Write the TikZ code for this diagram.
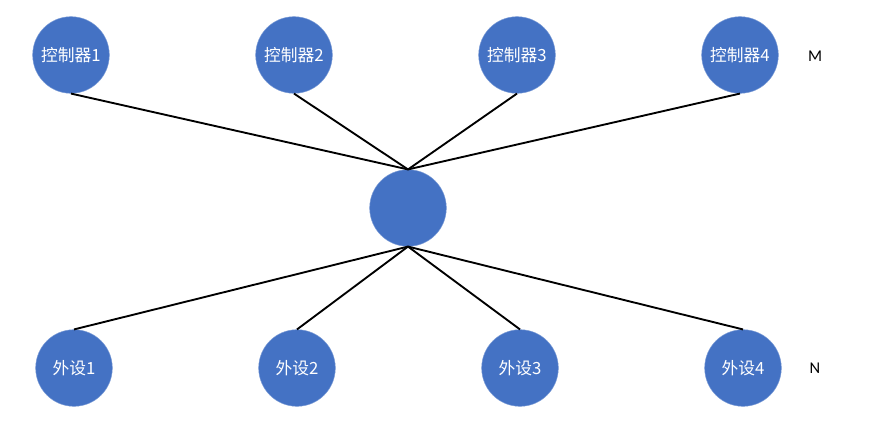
\documentclass[tikz,border=0pt]{standalone}
\usepackage{fontspec}
\usepackage{xcolor}
\newfontfamily\cjk{Noto Sans CJK SC}
\setmainfont{Carlito}
\definecolor{mainblue}{RGB}{68, 114, 196}

\tikzset{
  dot/.style={circle, fill=mainblue, draw=mainblue!70!white, line width=0.4pt,
    minimum size=2.3cm, inner sep=0pt, text=white,
    font=\cjk\fontsize{14.3}{17}\selectfont},
  link/.style={line width=1.6pt, black},
  tag/.style={font=\fontsize{14}{17}\selectfont}
}

\begin{document}
\begin{tikzpicture}[x=0.03cm, y=-0.03cm]
    \useasboundingbox (0,0) rectangle (875,423);
    % hub
    \node[dot] (hub) at (408,208) {};
    % controllers
    \node[dot] (ctl1) at (71,55) {控制器1};
    \node[dot] (ctl2) at (294,55) {控制器2};
    \node[dot] (ctl3) at (517,55) {控制器3};
    \node[dot] (ctl4) at (740,55) {控制器4};
    \node[tag] (m) at (815,56) {M};
    % peripherals
    \node[dot] (dev1) at (74,368) {外设1};
    \node[dot] (dev2) at (297,368) {外设2};
    \node[dot] (dev3) at (520,368) {外设3};
    \node[dot] (dev4) at (743,368) {外设4};
    \node[tag] (n) at (815,368) {N};
    \foreach \i in {1,...,4} {
        \draw[link] (ctl\i.south) -- (hub.north);
        \draw[link] (hub.south) -- (dev\i.north);
    }
\end{tikzpicture}
\end{document}
